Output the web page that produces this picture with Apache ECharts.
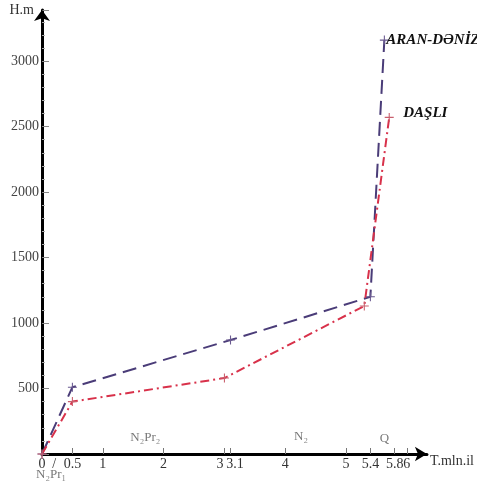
<!DOCTYPE html>
<html>
<head>
<meta charset="utf-8">
<script src="https://cdn.jsdelivr.net/npm/echarts@6/dist/echarts.min.js"></script>
<style>html,body{margin:0;padding:0;background:#fff;}#c{width:477px;height:483px;}</style>
</head>
<body>
<div id="c"></div>
<script>
// ---- data ----
const aranX = [0, 0.5, 3.1, 5.4, 5.63];
const aranH = [0, 510, 870, 1200, 3160];
const dasliX = [0, 0.5, 3.0, 5.3, 5.71];
const dasliH = [0, 400, 580, 1130, 2570];
const xLabelValues = [0, 0.2, 0.5, 1, 2, 3, 3.1, 4, 5, 5.4, 5.8, 6];
const xLabelTexts = ['0', '/', '0.5', '1', '2', '3', '3.1', '4', '5', '5.4', '5.8', '6'];
const xTickValues = [0.5, 1, 2, 3, 3.1, 4, 5, 5.4, 5.8, 6];
const yLabelValues = [500, 1000, 1500, 2000, 2500, 3000];
const periodNames = ['N\u2082Pr\u2081', 'N\u2082Pr\u2082', 'N\u2082', 'Q'];
const periodX = [0.15, 1.7, 4.26, 5.63];
const periodH = [-160, 122, 130, 115];
const seriesNames = ['ARAN-DƏNİZ', 'DAŞLI'];

const serif = '"Liberation Serif", "DejaVu Serif", serif';
const plus = 'path://M4.4,0h1.2v4.4h4.4v1.2h-4.4v4.4h-1.2v-4.4h-4.4v-1.2h4.4z';

const chart = echarts.init(document.getElementById('c'));
chart.setOption({
  animation: false,
  grid: { left: 42, right: 47, top: 10, bottom: 29, containLabel: false },
  xAxis: {
    type: 'value', min: 0, max: 6.33,
    name: 'T.mln.il', nameLocation: 'end', nameGap: 3,
    nameTextStyle: { fontFamily: serif, fontSize: 14, color: '#333', verticalAlign: 'top', padding: [0, 0, 0, 0] },
    axisLine: { show: true, lineStyle: { color: '#000', width: 3 }, symbol: ['none', 'arrow'], symbolSize: [11, 12] },
    axisTick: { show: true, inside: true, length: 6, lineStyle: { color: '#777' }, customValues: xTickValues },
    axisLabel: {
      customValues: xLabelValues,
      fontFamily: serif, fontSize: 14, color: '#333', margin: 3,
      formatter: function (v) {
        const i = xLabelValues.findIndex(t => Math.abs(t - v) < 1e-6);
        if (i < 0) return '';
        const s = xLabelTexts[i];
        if (s === '3') return '{l|3}';
        if (s === '3.1') return '{r|3.1}';
        return s;
      },
      rich: {
        l: { padding: [0, 9, 0, 0], fontFamily: serif, fontSize: 14, color: '#333' },
        r: { padding: [0, 0, 0, 9], fontFamily: serif, fontSize: 14, color: '#333' }
      }
    },
    splitLine: { show: false }
  },
  yAxis: {
    type: 'value', min: 0, max: 3390, interval: 500,
    name: 'H.m', nameLocation: 'end', nameGap: 0,
    nameTextStyle: { fontFamily: serif, fontSize: 14, color: '#333', align: 'right', verticalAlign: 'middle', padding: [0, 8, 0, 0] },
    axisLine: { show: true, lineStyle: { color: '#000', width: 3 }, symbol: ['none', 'arrow'], symbolSize: [12, 11] },
    axisTick: { show: true, inside: true, length: 7, lineStyle: { color: '#888' } },
    minorTick: { show: true, splitNumber: 5, length: 3, lineStyle: { color: '#aaa' } },
    axisLabel: {
      fontFamily: serif, fontSize: 14, color: '#444', margin: 3,
      formatter: function (v) { return yLabelValues.indexOf(v) >= 0 ? String(v) : ''; }
    },
    splitLine: { show: false }
  },
  series: [
    {
      name: seriesNames[0], type: 'line',
      data: aranX.map((x, i) => [x, aranH[i]]),
      symbol: plus, symbolSize: 9, showAllSymbol: true,
      itemStyle: { color: '#6a5a90' },
      lineStyle: { color: '#4a3c78', width: 2, type: [14, 7] },
      endLabel: { show: true, formatter: '{a}', distance: 2, fontFamily: serif, fontSize: 15, fontWeight: 'bold', fontStyle: 'italic', color: '#111' },
      z: 3
    },
    {
      name: seriesNames[1], type: 'line',
      data: dasliX.map((x, i) => [x, dasliH[i]]),
      symbol: plus, symbolSize: 9, showAllSymbol: true,
      itemStyle: { color: '#c9606e' },
      lineStyle: { color: '#d8314a', width: 2, type: [9, 4, 2, 4] },
      endLabel: { show: true, formatter: '{a}', distance: 14, offset: [0, -4], fontFamily: serif, fontSize: 15, fontWeight: 'bold', fontStyle: 'italic', color: '#111' },
      z: 3
    },
    {
      name: 'periods', type: 'scatter', clip: false, silent: true,
      symbolSize: 0,
      data: periodX.map((x, i) => ({ value: [x, periodH[i]], name: periodNames[i] })),
      label: { show: true, position: 'inside', formatter: '{b}', fontFamily: serif, fontSize: 13, color: '#555' }
    }
  ]
});
</script>
</body>
</html>
